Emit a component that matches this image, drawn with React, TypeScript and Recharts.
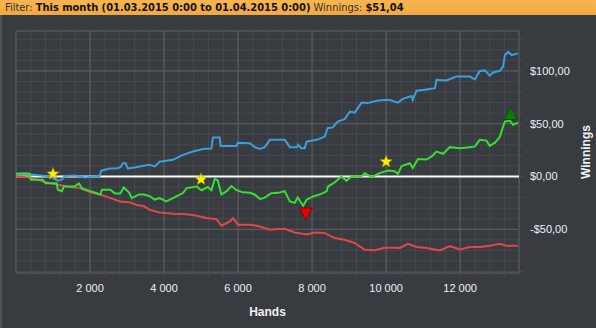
import React from "react";
import {
  ComposedChart,
  Line,
  XAxis,
  YAxis,
  CartesianGrid,
  ReferenceLine,
  ReferenceDot,
  ReferenceArea,
  Label,
} from "recharts";

// ---- data ----
const blueHands = [0, 290, 400, 910, 1130, 1240, 1320, 1590, 1860, 2130, 2260, 2300, 2530, 2720, 2830, 2890, 2960, 3020, 3210, 3340, 3610, 3750, 3830, 3880, 4240, 4510, 4780, 5050, 5280, 5320, 5500, 5530, 5960, 5990, 6320, 6450, 6590, 6720, 6860, 7260, 7400, 7590, 7620, 7710, 7800, 7850, 8150, 8340, 8420, 8560, 8690, 8880, 9020, 9150, 9340, 9500, 9780, 9960, 10100, 10320, 10450, 10690, 10720, 10820, 11090, 11320, 11360, 11630, 11900, 12260, 12400, 12530, 12670, 12800, 12890, 13070, 13160, 13210, 13300, 13390, 13560];
const blueValues = [2.5, 3, 2, 0, -4, -3, 0.5, 1, -1, 0, 0.5, 5.5, 7.5, 7.5, 9, 12.6, 12.6, 7.5, 8.5, 9.5, 11, 9.5, 12, 14, 15.8, 20.5, 23.6, 26, 26.5, 37, 37, 29, 29, 32, 31.5, 27.8, 26, 27.8, 34.7, 34.7, 27.8, 27.8, 30, 26.8, 26.8, 33, 35, 37.8, 45.8, 46.5, 52, 54.3, 61.5, 60.5, 70, 69.5, 71.9, 72.5, 72.5, 70, 73.5, 76.3, 72.5, 81.3, 82.5, 83.6, 91.5, 91, 94.6, 94.6, 92, 100, 100.5, 95.5, 98.5, 100, 104, 115, 118, 115, 116.6];

const greenHands = [0, 370, 400, 720, 800, 1100, 1130, 1240, 1290, 1590, 1700, 1780, 2010, 2280, 2320, 2550, 2670, 2820, 2910, 3050, 3130, 3320, 3450, 3610, 3750, 3880, 4060, 4240, 4510, 4610, 4880, 5010, 5180, 5280, 5370, 5450, 5550, 5690, 5820, 5960, 6130, 6320, 6450, 6590, 6720, 6900, 7080, 7260, 7400, 7530, 7610, 7760, 7850, 8030, 8250, 8390, 8430, 8610, 8790, 8930, 9060, 9340, 9420, 9610, 9830, 10050, 10230, 10320, 10420, 10640, 10720, 10860, 11090, 11230, 11360, 11540, 11720, 12000, 12260, 12400, 12530, 12710, 12800, 12940, 13070, 13160, 13210, 13340, 13430, 13560];
const greenValues = [2.5, 2.5, -3, -3, -6.5, -6.5, -12.6, -14, -9.5, -9.5, -6.5, -11, -14, -17, -12.6, -12.6, -16, -16, -10.4, -15, -20.5, -17, -17, -18.6, -22, -20.5, -23.6, -20.5, -15.7, -11, -9.5, -13, -10, -13, -2.5, -3.5, -17, -14, -9, -13, -15, -15.5, -17, -21.4, -20, -15.8, -15.5, -14, -23.6, -25, -19.8, -27.7, -22, -18.9, -16.5, -14, -9.5, -5.7, 0, -4, 0, 0.5, 3.2, -0.5, 3.2, 5.7, 5, 2.5, 10, 12.6, 8, 16.5, 16, 19, 23.6, 21.5, 27.8, 26.8, 27.8, 28.5, 34.7, 34, 29, 32, 37.3, 47.3, 52, 53, 49, 51];

const redHands = [0, 370, 830, 1100, 1450, 1720, 2010, 2280, 2550, 2820, 3090, 3260, 3450, 3610, 3880, 4240, 4510, 4780, 5150, 5420, 5550, 5780, 5860, 6000, 6320, 6590, 6860, 7010, 7260, 7530, 7850, 8070, 8340, 8610, 8880, 9150, 9420, 9700, 9960, 10230, 10370, 10590, 10820, 11090, 11450, 11720, 12000, 12260, 12530, 12800, 13070, 13250, 13560];
const redValues = [0, -1, -5.7, -7.5, -10, -11, -15, -17, -20.5, -23.7, -24.7, -27, -28, -31.5, -34, -35.3, -35.5, -36.5, -39.4, -40.5, -46.6, -42.5, -39.4, -45.6, -45.6, -47.3, -50.4, -50, -49.5, -53, -55, -53, -53.5, -58.3, -60, -63, -69.3, -69.8, -67.6, -67.6, -67.7, -63.7, -66.7, -67.7, -70, -66, -69, -66.7, -66.7, -65.5, -63.7, -65.5, -65.6];

const starHands = [1000, 5000, 10000];
const starValues = [2.4, -2.7, 14];
const lowMarker = { hand: 7830, value: -35 };
const highMarker = { hand: 13370, value: 59.2 };

const xTicks = [400, 800, 1200, 1600, 2000, 2400, 2800, 3200, 3600, 4000, 4400, 4800, 5200, 5600, 6000, 6400, 6800, 7200, 7600, 8000, 8400, 8800, 9200, 9600, 10000, 10400, 10800, 11200, 11600, 12000, 12400, 12800, 13200];
const xMajor = [2000, 4000, 6000, 8000, 10000, 12000];
const yTicks = [-90, -80, -70, -60, -50, -40, -30, -20, -10, 0, 10, 20, 30, 40, 50, 60, 70, 80, 90, 100, 110, 120, 130];
const yMajor = [-50, 50, 100];
const xDomain: [number, number] = [0, 13590];
const yDomain: [number, number] = [-91.4, 137.8];

const toPoints = (hands: number[], values: number[]) =>
  hands.map((h, i) => ({ h, v: values[i] }));

const blueData = toPoints(blueHands, blueValues);
const greenData = toPoints(greenHands, greenValues);
const redData = toPoints(redHands, redValues);

const BG = "#383b3f";
const MINOR = "#46494d";
const MAJOR = "#5c5f63";
const TEXT = "#eef0f6";

const fmtHands = (v: number) =>
  v % 2000 === 0 ? `${Math.floor(v / 1000)} ${String(v % 1000).padStart(3, "0")}` : "";
const fmtMoney = (v: number) => {
  if (v % 50 !== 0) return "";
  const s = `$${Math.abs(v)},00`;
  return v < 0 ? `-${s}` : s;
};

const Star = (props: any) => {
  const { cx, cy } = props;
  const pts: string[] = [];
  for (let i = 0; i < 10; i++) {
    const r = i % 2 === 0 ? 6.5 : 2.8;
    const a = -Math.PI / 2 + (i * Math.PI) / 5;
    pts.push(`${cx + r * Math.cos(a)},${cy + r * Math.sin(a)}`);
  }
  return <polygon points={pts.join(" ")} fill="#fff200" stroke="#9a8a00" strokeWidth={0.6} />;
};

const TriDown = (props: any) => {
  const { cx, cy } = props;
  return (
    <polygon
      points={`${cx - 6.5},${cy - 5.5} ${cx + 6.5},${cy - 5.5} ${cx},${cy + 6.5}`}
      fill="#e60000"
      stroke="#7a0000"
      strokeWidth={0.8}
    />
  );
};

const TriUp = (props: any) => {
  const { cx, cy } = props;
  return (
    <polygon
      points={`${cx - 6.5},${cy + 5.5} ${cx + 6.5},${cy + 5.5} ${cx},${cy - 6.5}`}
      fill="#0c7a0c"
      stroke="#054805"
      strokeWidth={0.8}
    />
  );
};

export default function App() {
  return (
    <div
      style={{
        position: "absolute",
        left: 0,
        top: 0,
        width: 596,
        height: 328,
        background: BG,
        overflow: "hidden",
        fontFamily: "'Liberation Sans', Arial, sans-serif",
      }}
    >
      <div
        style={{
          position: "absolute",
          left: 0,
          top: 0,
          width: 596,
          height: 15,
          background: "linear-gradient(#f7b552, #f2a83f)",
          fontFamily: "'Liberation Sans Narrow', 'Arial Narrow', 'DejaVu Sans Condensed', sans-serif",
          fontSize: 11,
          lineHeight: "15px",
          color: "#333",
          paddingLeft: 5,
          whiteSpace: "nowrap",
          boxSizing: "border-box",
        }}
      >
        Filter: <b style={{ color: "#111" }}>This month (01.03.2015 0:00 to 01.04.2015 0:00)</b> Winnings:{" "}
        <b style={{ color: "#111" }}>$51,04</b>
      </div>
      <div style={{ position: "absolute", left: 0, top: 15, width: 2, height: 313, background: "#4e545b" }} />
      <div style={{ position: "absolute", left: 0, top: 0 }}>
        <ComposedChart
          width={596}
          height={328}
          margin={{ top: 31, right: 0, left: 16, bottom: 0 }}
        >
          <CartesianGrid stroke={MINOR} strokeWidth={1} />
          <XAxis
            type="number"
            dataKey="h"
            domain={xDomain}
            ticks={xTicks}
            allowDataOverflow
            height={55}
            tickFormatter={fmtHands}
            tick={{ fill: TEXT, fontSize: 11 }}
            tickLine={{ stroke: MINOR }}
            tickSize={4}
            tickMargin={7}
            axisLine={false}
            interval={0}
          >
            <Label value="Hands" position="insideBottom" offset={12} fill={TEXT} fontSize={12} fontWeight="bold" />
          </XAxis>
          <YAxis
            type="number"
            dataKey="v"
            orientation="right"
            domain={yDomain}
            ticks={yTicks}
            allowDataOverflow
            width={77}
            tickFormatter={fmtMoney}
            tick={{ fill: TEXT, fontSize: 11 }}
            tickLine={{ stroke: MINOR }}
            tickSize={4}
            tickMargin={7}
            axisLine={false}
            interval={0}
          >
            <Label value="Winnings" position="center" angle={-90} dx={28} fill={TEXT} fontSize={12} fontWeight="bold" />
          </YAxis>
          {xMajor.map((x) => (
            <ReferenceLine key={`vx${x}`} x={x} stroke={MAJOR} strokeWidth={1} />
          ))}
          {yMajor.map((y) => (
            <ReferenceLine key={`hy${y}`} y={y} stroke={MAJOR} strokeWidth={1} />
          ))}
          <ReferenceArea x1={xDomain[0]} x2={xDomain[1]} y1={yDomain[0]} y2={yDomain[1]} fill="none" stroke={MAJOR} strokeWidth={1} />
          <ReferenceLine y={0} stroke="#ffffff" strokeWidth={2} />
          <Line data={redData} dataKey="v" type="linear" stroke="#e04848" strokeWidth={2} dot={false} isAnimationActive={false} />
          <Line data={blueData} dataKey="v" type="linear" stroke="#3a9ee0" strokeWidth={2} dot={false} isAnimationActive={false} />
          <Line data={greenData} dataKey="v" type="linear" stroke="#33e033" strokeWidth={2} dot={false} isAnimationActive={false} />
          {starHands.map((h, i) => (
            <ReferenceDot key={`s${h}`} x={h} y={starValues[i]} shape={Star} />
          ))}
          <ReferenceDot x={lowMarker.hand} y={lowMarker.value} shape={TriDown} />
          <ReferenceDot x={highMarker.hand} y={highMarker.value} shape={TriUp} />
        </ComposedChart>
      </div>
    </div>
  );
}
